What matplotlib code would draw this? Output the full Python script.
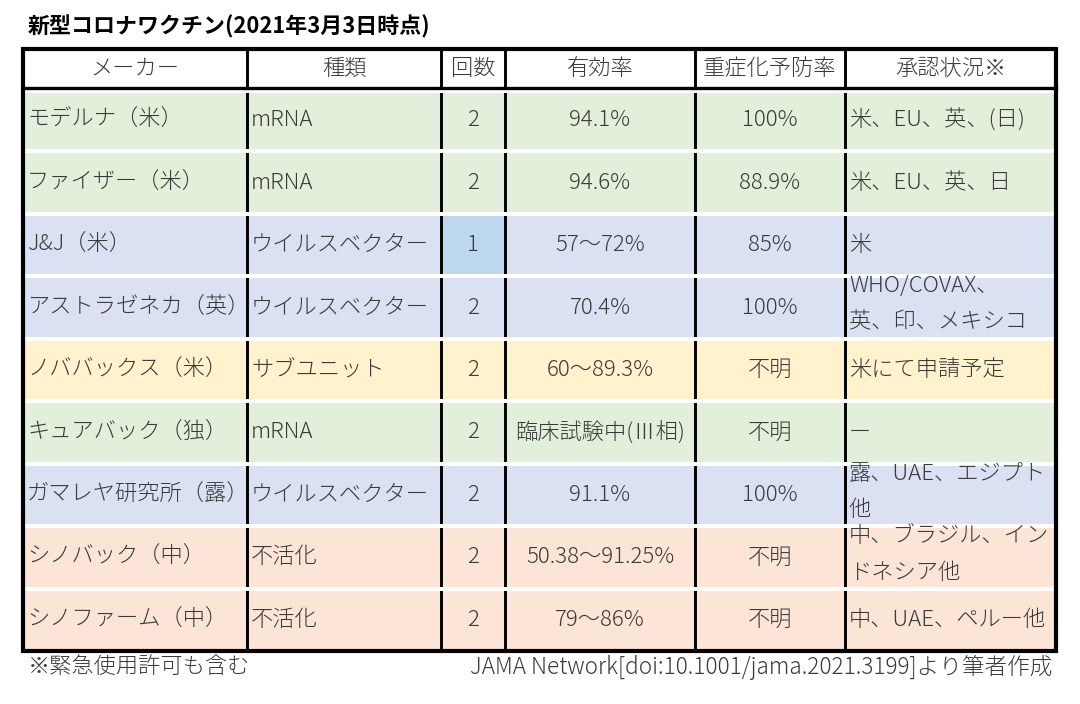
import matplotlib
matplotlib.use("Agg")
import matplotlib.pyplot as plt
from matplotlib.patches import Rectangle

plt.rcParams["font.family"] = ["Noto Sans CJK JP", "DejaVu Sans"]

# ---- data ----
title = "新型コロナワクチン(2021年3月3日時点)"
headers = ["メーカー", "種類", "回数", "有効率", "重症化予防率", "承認状況※"]
makers = ["モデルナ（米）", "ファイザー（米）", "J&J（米）", "アストラゼネカ（英）",
          "ノババックス（米）", "キュアバック（独）", "ガマレヤ研究所（露）",
          "シノバック（中）", "シノファーム（中）"]
types = ["mRNA", "mRNA", "ウイルスベクター", "ウイルスベクター", "サブユニット",
         "mRNA", "ウイルスベクター", "不活化", "不活化"]
doses = ["2", "2", "1", "2", "2", "2", "2", "2", "2"]
efficacy = ["94.1%", "94.6%", "57～72%", "70.4%", "60～89.3%", "臨床試験中(Ⅲ相)",
            "91.1%", "50.38～91.25%", "79～86%"]
severe = ["100%", "88.9%", "85%", "100%", "不明", "不明", "100%", "不明", "不明"]
approval = ["米、EU、英、(日)", "米、EU、英、日", "米", "WHO/COVAX、\n英、印、メキシコ",
            "米にて申請予定", "ー", "露、UAE、エジプト\n他", "中、ブラジル、イン\nドネシア他",
            "中、UAE、ペルー他"]
note = "※緊急使用許可も含む"
source = "JAMA Network[doi:10.1001/jama.2021.3199]より筆者作成"

# ---- style ----
type_colors = {"mRNA": "#E2EFDA", "ウイルスベクター": "#D9E1F2",
               "サブユニット": "#FFF2CC", "不活化": "#FCE4D6"}
single_dose_color = "#BDD7EE"
text_color = "#3a3a3a"
col_x = [23, 247, 441, 505, 695, 845, 1056]
aligns = ["left", "left", "center", "center", "center", "left"]
top, head_bot, bottom = 49, 89, 651
row_h = (bottom - head_bot) / len(makers)
FS = 16

fig = plt.figure(figsize=(10.8, 7.04), dpi=100)
ax = fig.add_axes([0, 0, 1, 1])
ax.set_xlim(0, 1080)
ax.set_ylim(704, 0)
ax.axis("off")

# row fills
for i, t in enumerate(types):
    y0 = head_bot + i * row_h
    ax.add_patch(Rectangle((col_x[0], y0), col_x[-1] - col_x[0], row_h,
                           facecolor=type_colors[t], edgecolor="none", zorder=1))
    if doses[i] == "1":
        ax.add_patch(Rectangle((col_x[2], y0), col_x[3] - col_x[2], row_h,
                               facecolor=single_dose_color, edgecolor="none", zorder=1.5))

# inner vertical lines
for x in col_x[1:-1]:
    ax.plot([x, x], [top, bottom], color="black", lw=2.1, zorder=2)

# white gaps between rows
for i in range(len(makers)):
    y = head_bot + i * row_h + (1.5 if i == 0 else 0)
    ax.plot([col_x[0] + 2, col_x[-1] - 2], [y, y], color="white", lw=2.9,
            solid_capstyle="butt", zorder=3)

# header bottom line and outer border
ax.plot([col_x[0], col_x[-1]], [head_bot - 1.5, head_bot - 1.5], color="black", lw=2.4, zorder=4)
ax.add_patch(Rectangle((col_x[0], top), col_x[-1] - col_x[0], bottom - top,
                       facecolor="none", edgecolor="black", lw=3.0, zorder=5))

# header text
for j, h in enumerate(headers):
    xc = (col_x[j] + col_x[j + 1]) / 2
    ax.text(xc, (top + head_bot) / 2, h, ha="center", va="center",
            fontsize=FS, fontweight="light", color=text_color, zorder=6)

# body text
columns = [makers, types, doses, efficacy, severe, approval]
for j, col in enumerate(columns):
    for i, s in enumerate(col):
        yc = head_bot + (i + 0.5) * row_h
        if aligns[j] == "left":
            x = col_x[j] + 4
        else:
            x = (col_x[j] + col_x[j + 1]) / 2
        if "\n" in s:
            yc -= 3
        ax.text(x, yc, s, ha=aligns[j], va="center", fontsize=FS, fontweight="light",
                color=text_color, linespacing=1.85, zorder=6)

ax.text(28, 27, title, ha="left", va="center", fontsize=15.8,
        fontweight="bold", color="black")
ax.text(28, 667, note, ha="left", va="center", fontsize=FS, fontweight="light",
        color=text_color)
ax.text(1052, 667, source, ha="right", va="center", fontsize=16.3, fontweight="light",
        color=text_color)

fig.savefig("out.png", dpi=100)
